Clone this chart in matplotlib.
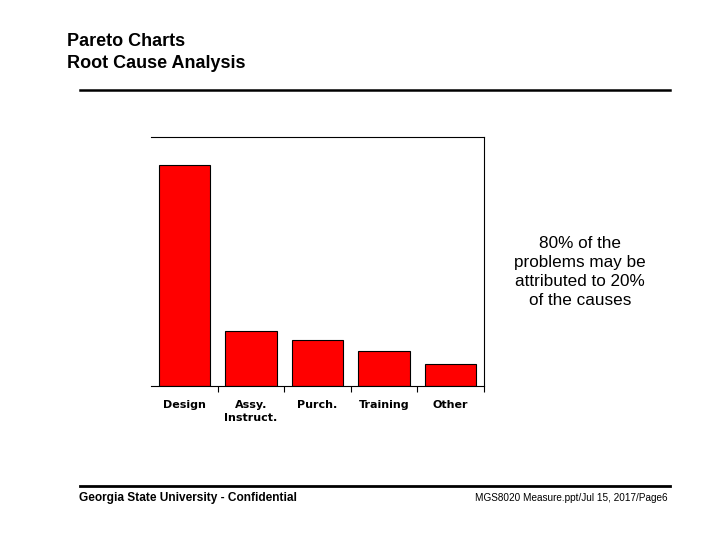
import matplotlib
matplotlib.use("Agg")
import matplotlib.pyplot as plt
from matplotlib.lines import Line2D

plt.rcParams['font.family'] = ['Liberation Sans', 'DejaVu Sans']

causes = ['Design', 'Assy.\nInstruct.', 'Purch.', 'Training', 'Other']
counts = [40, 10, 8.3, 6.3, 4]

fig = plt.figure(figsize=(7.2, 5.4), dpi=100)

# slide header and footer
fig.text(67/720, 1-41/540, 'Pareto Charts', fontsize=13, fontweight='bold', va='center')
fig.text(67/720, 1-63/540, 'Root Cause Analysis', fontsize=13, fontweight='bold', va='center')
fig.add_artist(Line2D([80/720, 670/720], [1-90/540, 1-90/540], color='black', lw=1.8))
fig.add_artist(Line2D([80/720, 670/720], [1-486/540, 1-486/540], color='black', lw=2))
fig.text(79/720, 1-498/540, 'Georgia State University - Confidential', fontsize=8.6,
         fontweight='bold', va='center')
fig.text(668/720, 1-498/540, 'MGS8020 Measure.ppt/Jul 15, 2017/Page6', fontsize=7.2,
         ha='right', va='center')

fig.text(580/720, 1-272/540, '80% of the\nproblems may be\nattributed to 20%\nof the causes',
         fontsize=12.3, ha='center', va='center', linespacing=1.36)

ax = fig.add_axes([151/720, 1-386/540, 333/720, 249/540])
ax.bar(range(len(causes)), counts, width=0.77, color='#ff0000', edgecolor='black', linewidth=0.8)
ax.set_xlim(-0.5, len(causes) - 0.5)
ax.set_ylim(0, 45)
ax.spines['left'].set_visible(False)
ax.set_yticks([])
ax.set_xticks([i + 0.5 for i in range(len(causes))])
ax.set_xticklabels([])
ax.set_xticks(range(len(causes)), minor=True)
ax.set_xticklabels(causes, minor=True, fontsize=8, fontweight='bold',
                   family=['DejaVu Sans'], linespacing=1.45)
ax.tick_params(axis='x', which='major', length=4, direction='out')
ax.tick_params(axis='x', which='minor', length=0, pad=10)

fig.savefig('out.png', dpi=100)
